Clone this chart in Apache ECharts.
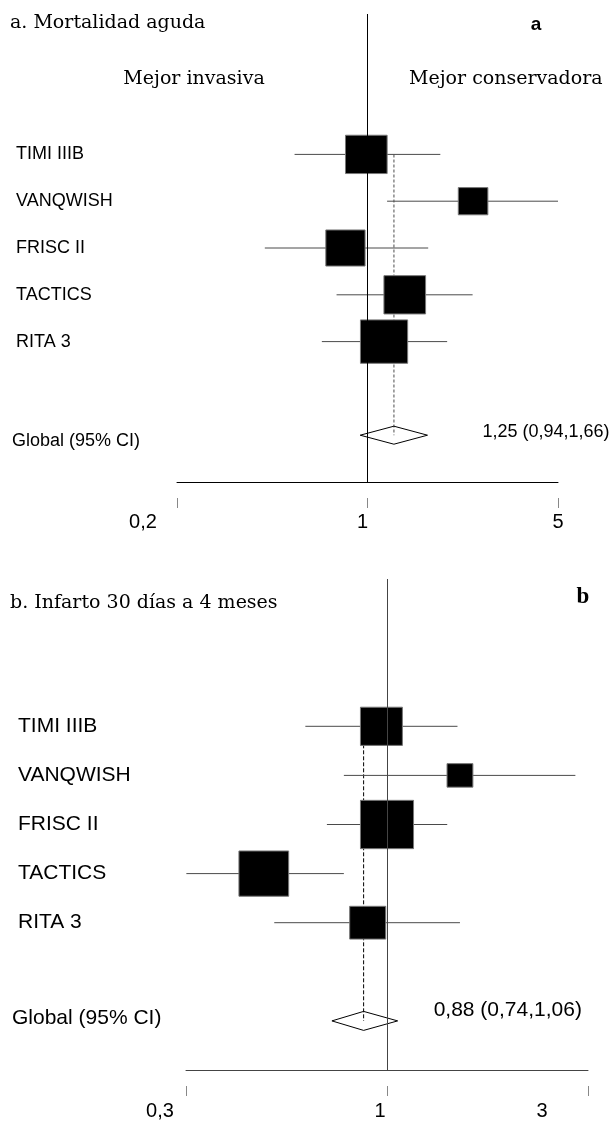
<!DOCTYPE html>
<html><head><meta charset="utf-8">
<script src="https://cdn.jsdelivr.net/npm/echarts@6/dist/echarts.min.js"></script>
<style>html,body{margin:0;padding:0;background:#fff}#c{width:611px;height:1121px}</style>
</head><body><div id="c"></div>
<script>
// ---------- DATA ----------
const studies = ['TIMI IIIB', 'VANQWISH', 'FRISC II', 'TACTICS', 'RITA 3'];
const globalLabel = 'Global (95% CI)';

// Panel a: Mortalidad aguda
const aTitle = 'a. Mortalidad aguda';
const aEst    = [0.99, 2.44, 0.83, 1.37, 1.15];
const aLow    = [0.54, 1.18, 0.42, 0.77, 0.68];
const aHigh   = [1.85, 5.00, 1.67, 2.43, 1.96];
const aWeight = [21.4, 10.8, 19.0, 21.4, 27.5];
const aGlobal = [1.25, 0.94, 1.66]; // estimate, low, high
const aTicks = [0.2, 1, 5];
const aTickLabels = ['0,2', '1', '5'];

// Panel b: Infarto 30 días a 4 meses
const bTitle = 'b. Infarto 30 días a 4 meses';
const bEst    = [0.97, 1.49, 1.00, 0.51, 0.90];
const bLow    = [0.64, 0.79, 0.72, 0.334, 0.54];
const bHigh   = [1.47, 2.80, 1.39, 0.79, 1.49];
const bWeight = [19.5, 7.4, 31.2, 27.4, 14.4];
const bGlobal = [0.88, 0.74, 1.06];
const bTicks = [1/3, 1, 3];
const bTickLabels = ['0,3', '1', '3'];

const sideLeft = 'Mejor invasiva';
const sideRight = 'Mejor conservadora';

// ---------- STYLE / LAYOUT ----------
const SANS = '"Liberation Sans", Arial, sans-serif';
const SERIF = '"DejaVu Serif", serif';
const GLOBAL_ROW = studies.length + 1;

const panels = [
  {
    est: aEst, low: aLow, high: aHigh, weight: aWeight, glob: aGlobal,
    ticks: aTicks, tickLabels: aTickLabels, logBase: 5,
    grid: { left: 177, right: 53, top: 14, height: 468 },
    labelSize: 18, labelMargin: 165, studyIndent: 4, globalPad: [12, 0, 0, 0],
    tickFont: 20, tickMargin: 14, tickPad: [68, 10, 0],
    sumFont: 18, sumDx: 55, sumDy: -3,
    boxK: 9.0, boxRatio: 0.92, diamondH: 9,
    refColor: '#000', axisColor: '#000', ciColor: '#4a4a4a',
    dashColor: '#808080', dashType: [3, 2], dashWidth: 1.4
  },
  {
    est: bEst, low: bLow, high: bHigh, weight: bWeight, glob: bGlobal,
    ticks: bTicks, tickLabels: bTickLabels, logBase: 3,
    grid: { left: 186, right: 23, top: 579, height: 492 },
    labelSize: 21, labelMargin: 174, studyIndent: 6, globalPad: [0, 0, 6, 0],
    tickFont: 20, tickMargin: 15, tickPad: [52, 14, 92],
    sumFont: 21, sumDx: 36, sumDy: -11,
    boxK: 9.5, boxRatio: 0.91, diamondH: 9.5,
    refColor: '#444', axisColor: '#444', ciColor: '#4a4a4a',
    dashColor: '#000', dashType: [4, 2], dashWidth: 1
  }
];

const fmt = v => v.toFixed(2).replace('.', ',');

const grids = [], xAxes = [], yAxes = [], series = [];

panels.forEach((P, i) => {
  grids.push(P.grid);
  const tickIndex = v => {
    let best = 0, bd = Infinity;
    P.ticks.forEach((t, k) => { const d = Math.abs(Math.log(v) - Math.log(t)); if (d < bd) { bd = d; best = k; } });
    return bd < 0.01 ? best : -1;
  };
  const richTicks = {};
  P.tickLabels.forEach((l, k) => {
    richTicks['t' + k] = { fontFamily: SANS, fontSize: P.tickFont, color: '#000', padding: [0, P.tickPad[k], 0, 0] };
  });
  // main axis (axis line)
  xAxes.push({
    gridIndex: i, type: 'log', logBase: P.logBase, position: 'bottom',
    min: P.ticks[0], max: P.ticks[P.ticks.length - 1], interval: 1,
    axisLine: { show: true, onZero: false, lineStyle: { color: P.axisColor, width: 1 } },
    axisTick: { show: false }, axisLabel: { show: false }, splitLine: { show: false }
  });
  // tick + label axis (offset below)
  xAxes.push({
    gridIndex: i, type: 'log', logBase: P.logBase, position: 'bottom', offset: 16,
    min: P.ticks[0], max: P.ticks[P.ticks.length - 1], interval: 1, splitNumber: 2,
    axisLine: { show: false, onZero: false },
    axisTick: { show: true, length: 10, lineStyle: { color: '#888', width: 1 } },
    axisLabel: {
      show: true, margin: P.tickMargin, showMinLabel: true, showMaxLabel: true,
      formatter: v => { const k = tickIndex(v); return k < 0 ? '' : '{t' + k + '|' + P.tickLabels[k] + '}'; },
      rich: richTicks
    },
    splitLine: { show: false }
  });
  yAxes.push({
    gridIndex: i, type: 'value', inverse: true, min: -3, max: 7, interval: 1,
    axisLine: { show: false, onZero: false }, axisTick: { show: false }, splitLine: { show: false },
    axisLabel: {
      align: 'left', margin: P.labelMargin, fontFamily: SANS, fontSize: P.labelSize, color: '#000',
      formatter: v => {
        const r = Math.round(v);
        if (Math.abs(v - r) > 1e-6) return '';
        if (r >= 0 && r < studies.length) return '{s|' + studies[r] + '}';
        if (r === GLOBAL_ROW) return '{g|' + globalLabel + '}';
        return '';
      },
      rich: {
        s: { fontFamily: SANS, fontSize: P.labelSize, color: '#000', padding: [0, 0, 0, P.studyIndent] },
        g: { fontFamily: SANS, fontSize: P.labelSize, color: '#000', padding: P.globalPad }
      }
    }
  });

  // global: dashed line, diamond, summary text, reference line
  series.push({
    type: 'custom', xAxisIndex: 2 * i, yAxisIndex: i, z: 1, clip: false,
    data: [[P.glob[0], GLOBAL_ROW, P.glob[1], P.glob[2]]],
    renderItem: (params, api) => {
      const e = api.value(0), row = api.value(1), lo = api.value(2), hi = api.value(3);
      const top = api.coord([e, 0]);
      const c = api.coord([e, row]);
      const l = api.coord([lo, row]);
      const h = api.coord([hi, row]);
      const dh = P.diamondH;
      return {
        type: 'group', children: [
          { type: 'line', shape: { x1: top[0], y1: top[1], x2: c[0], y2: c[1] },
            style: { stroke: P.dashColor, lineWidth: P.dashWidth, lineDash: P.dashType } },
          { type: 'polygon', shape: { points: [[l[0], c[1]], [c[0], c[1] - dh], [h[0], c[1]], [c[0], c[1] + dh]] },
            style: { fill: 'rgba(255,255,255,0)', stroke: '#000', lineWidth: 1 } },
          { type: 'text', x: h[0] + P.sumDx, y: c[1] + P.sumDy,
            style: { text: fmt(e) + ' (' + fmt(lo) + ',' + fmt(hi) + ')', font: P.sumFont + 'px ' + SANS,
                     fill: '#000', align: 'left', verticalAlign: 'middle' } }
        ]
      };
    },
    markLine: {
      silent: true, symbol: ['none', 'none'], label: { show: false },
      lineStyle: { color: P.refColor, width: 1, type: 'solid' },
      data: [{ xAxis: 1 }]
    }
  });

  // studies: CI lines and weighted squares
  series.push({
    type: 'custom', xAxisIndex: 2 * i, yAxisIndex: i, z: 3, clip: false,
    data: studies.map((s, k) => [P.est[k], k, P.low[k], P.high[k], P.weight[k]]),
    renderItem: (params, api) => {
      const row = api.value(1);
      const p = api.coord([api.value(0), row]);
      const l = api.coord([api.value(2), row]);
      const h = api.coord([api.value(3), row]);
      const w = Math.sqrt(api.value(4)) * P.boxK;
      const hh = w * P.boxRatio;
      return {
        type: 'group', children: [
          { type: 'line', shape: { x1: l[0], y1: l[1], x2: h[0], y2: h[1] },
            style: { stroke: P.ciColor, lineWidth: 1 } },
          { type: 'rect', shape: { x: p[0] - w / 2, y: p[1] - hh / 2, width: w, height: hh },
            style: { fill: '#000', stroke: '#777', lineWidth: 1 } }
        ]
      };
    }
  });
});

const txt = (text, x, y, font, align) => ({
  type: 'text', x: x, y: y, silent: true,
  style: { text: text, font: font, fill: '#000', align: align || 'left', verticalAlign: 'middle' }
});

const option = {
  animation: false,
  backgroundColor: '#fff',
  grid: grids,
  xAxis: xAxes,
  yAxis: yAxes,
  series: series,
  graphic: [
    txt(aTitle, 10, 23, '19px ' + SERIF),
    txt('a', 536, 25, 'bold 19px ' + SANS, 'center'),
    txt(sideLeft, 194, 79, '19px ' + SERIF, 'center'),
    txt(sideRight, 409, 79, '19px ' + SERIF),
    txt(bTitle, 10, 603, '19px ' + SERIF),
    txt('b', 583, 597, 'bold 23px "Liberation Serif", serif', 'center')
  ]
};

const chart = echarts.init(document.getElementById('c'), null, { renderer: 'canvas' });
chart.setOption(option);
</script>
</body></html>
